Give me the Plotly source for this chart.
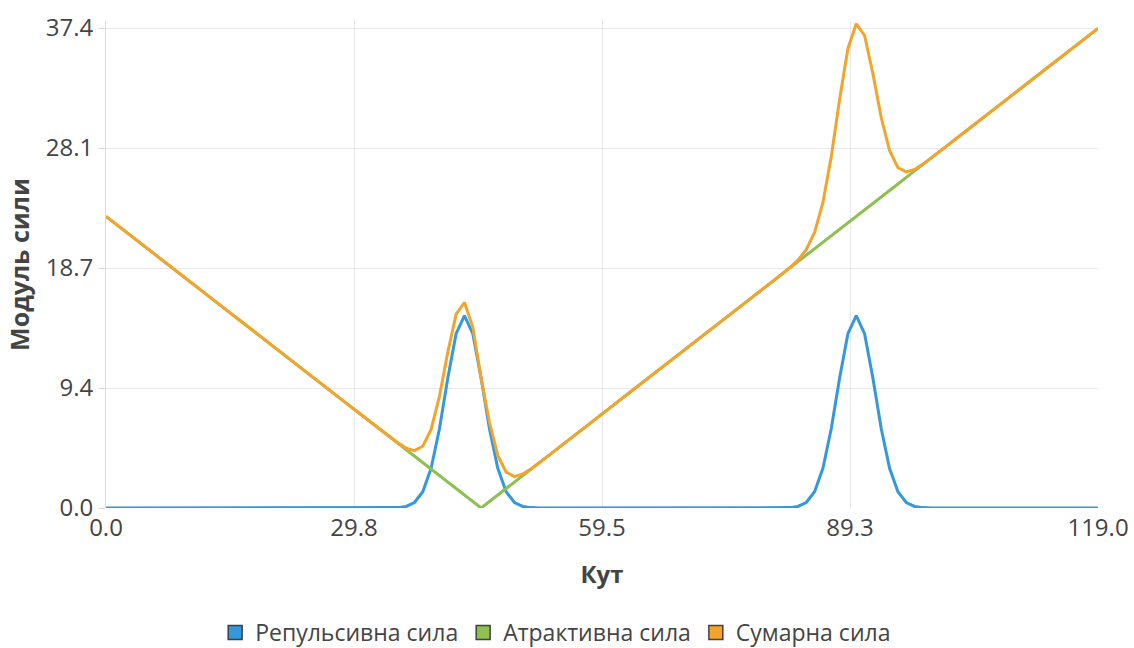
import plotly.graph_objects as go

angle = list(range(0, 120))

repulsive = [0.0] * 35 + [
    0.03, 0.12, 0.43, 1.27, 3.09, 6.17, 10.11, 13.59, 15.00, 13.59,
    10.11, 6.17, 3.09, 1.27, 0.43, 0.12, 0.03,
] + [0.0] * 30 + [
    0.03, 0.12, 0.43, 1.27, 3.09, 6.17, 10.11, 13.59, 15.00, 13.59,
    10.11, 6.17, 3.09, 1.27, 0.43, 0.12, 0.03,
] + [0.0] * 21

attractive = [
    22.73, 22.22, 21.72, 21.21, 20.71, 20.20, 19.70, 19.19, 18.69, 18.18,
    17.68, 17.17, 16.67, 16.16, 15.66, 15.15, 14.65, 14.14, 13.64, 13.13,
    12.63, 12.12, 11.62, 11.11, 10.61, 10.10, 9.60, 9.09, 8.59, 8.08,
    7.58, 7.07, 6.57, 6.06, 5.56, 5.05, 4.55, 4.04, 3.54, 3.03,
    2.53, 2.02, 1.52, 1.01, 0.51, 0.00,
    0.51, 1.01, 1.52, 2.02, 2.53, 3.03, 3.54, 4.04, 4.55, 5.05,
    5.56, 6.06, 6.57, 7.07, 7.58, 8.08, 8.59, 9.09, 9.60, 10.10,
    10.61, 11.11, 11.62, 12.12, 12.63, 13.13, 13.64, 14.14, 14.65, 15.15,
    15.66, 16.16, 16.67, 17.17, 17.68, 18.18, 18.69, 19.19, 19.70, 20.20,
    20.71, 21.21, 21.72, 22.22, 22.73, 23.23, 23.74, 24.24, 24.75, 25.25,
    25.76, 26.26, 26.77, 27.27, 27.78, 28.28, 28.79, 29.29, 29.80, 30.30,
    30.81, 31.31, 31.82, 32.32, 32.83, 33.33, 33.84, 34.34, 34.85, 35.35,
    35.86, 36.36, 36.87, 37.37,
]

total = [
    22.73, 22.22, 21.72, 21.21, 20.71, 20.20, 19.70, 19.19, 18.69, 18.18,
    17.68, 17.17, 16.67, 16.16, 15.66, 15.15, 14.65, 14.14, 13.64, 13.13,
    12.63, 12.12, 11.62, 11.11, 10.61, 10.10, 9.60, 9.09, 8.59, 8.08,
    7.58, 7.07, 6.57, 6.06, 5.56, 5.08, 4.67, 4.47, 4.81, 6.12,
    8.70, 12.13, 15.11, 16.01, 14.10, 10.11,
    6.68, 4.10, 2.79, 2.45, 2.65, 3.06, 3.54, 4.04, 4.55, 5.05,
    5.56, 6.06, 6.57, 7.07, 7.58, 8.08, 8.59, 9.09, 9.60, 10.10,
    10.61, 11.11, 11.62, 12.12, 12.63, 13.13, 13.64, 14.14, 14.65, 15.15,
    15.66, 16.16, 16.67, 17.17, 17.68, 18.18, 18.72, 19.31, 20.13, 21.47,
    23.80, 27.38, 31.83, 35.81, 37.73, 36.82, 33.85, 30.41, 27.84, 26.52,
    26.19, 26.38, 26.80, 27.27, 27.78, 28.28, 28.79, 29.29, 29.80, 30.30,
    30.81, 31.31, 31.82, 32.32, 32.83, 33.33, 33.84, 34.34, 34.85, 35.35,
    35.86, 36.36, 36.87, 37.37,
]

series_names = ["Репульсивна сила", "Атрактивна сила", "Сумарна сила"]
series_colors = ["#3498db", "#8cc152", "#f2a42d"]
x_tickvals = [0, 29.75, 59.5, 89.25, 119]
x_ticktext = ["0.0", "29.8", "59.5", "89.3", "119.0"]
y_tickvals = [0, 9.35, 18.7, 28.05, 37.4]
y_ticktext = ["0.0", "9.4", "18.7", "28.1", "37.4"]

FONT = "Open Sans, Noto Sans, DejaVu Sans, sans-serif"

fig = go.Figure()
for name, ys, col in zip(series_names, [repulsive, attractive, total], series_colors):
    fig.add_trace(go.Scatter(
        x=angle, y=ys, mode="lines", name=name,
        line=dict(color=col, width=3), showlegend=False,
        legendgroup=name,
    ))
for name, col in zip(series_names, series_colors):
    fig.add_trace(go.Scatter(
        x=[None], y=[None], mode="markers", name=name, legendgroup=name,
        marker=dict(symbol="square", size=14, color=col,
                    line=dict(color="rgba(40,40,40,0.85)", width=1.5)),
        showlegend=True,
    ))

fig.update_layout(
    width=1134, height=648,
    margin=dict(l=106, r=36, t=21, b=140),
    paper_bgcolor="white", plot_bgcolor="white",
    font=dict(family=FONT, size=24, color="#444"),
    legend=dict(
        orientation="h", x=0.49, xref="container", xanchor="center",
        y=0.024, yref="container", yanchor="middle",
        font=dict(size=23, color="#444"),
    ),
    xaxis=dict(
        range=[0, 119], tickvals=x_tickvals, ticktext=x_ticktext,
        showgrid=True, gridcolor="#e8e8e8", gridwidth=1, zeroline=False,
        showline=False, ticks="", ticklabelstandoff=3, automargin=False,
        tickfont=dict(size=24, color="#444"),
        title=dict(text="<b>Кут</b>", font=dict(size=24, color="#444"), standoff=24),
    ),
    yaxis=dict(
        range=[0, 37.95], tickvals=y_tickvals, ticktext=y_ticktext,
        showgrid=True, gridcolor="#e8e8e8", gridwidth=1, zeroline=False,
        showline=True, linecolor="#dcdcdc", linewidth=1, automargin=False,
        ticks="outside", ticklen=7, tickcolor="#dcdcdc",
        tickfont=dict(size=24, color="#444"),
        title=dict(text="<b>Модуль сили</b>", font=dict(size=25, color="#444"), standoff=8),
    ),
)

fig.write_html("out.html", config={"displayModeBar": False},
               post_script="document.body.style.margin='0px';")
